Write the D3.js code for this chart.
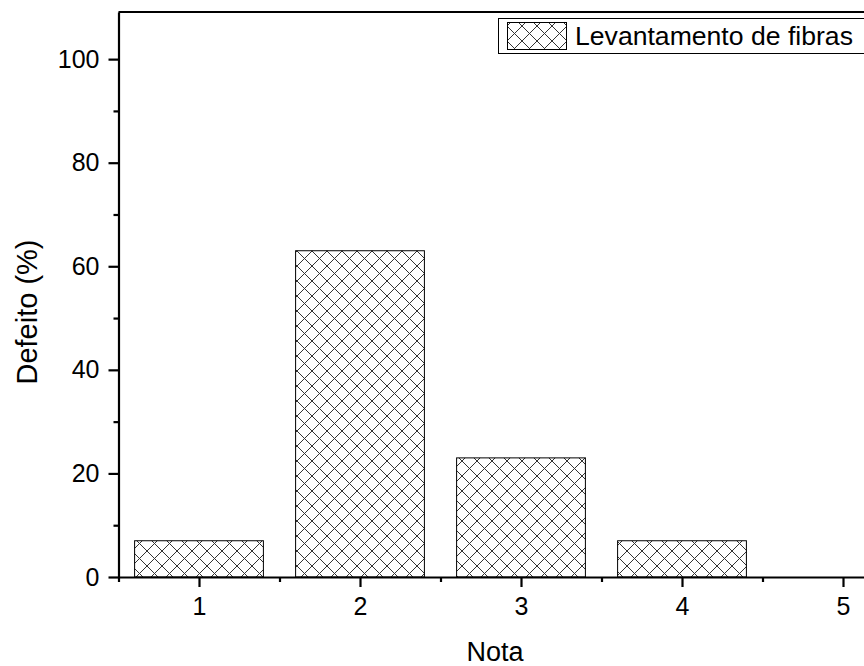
<!DOCTYPE html>
<html lang="pt">
<head>
	<meta charset="utf-8">
	<script src="https://d3js.org/d3.v7.min.js"></script>
	<style>
		body{ margin:0; background:#fff; }
		svg{ display:block; }
		text{ font-family: "Liberation Sans", Arial, sans-serif; fill:#000; }
		.axis path, .axis line{ stroke:#000; stroke-width:2.2px; }
		.axis text{ font-size:25px; font-family: "Liberation Sans", Arial, sans-serif; }
		.bar{ stroke:#000; stroke-width:1px; }
	</style>
</head>
<body>
	<script>
		// data
		var notas = [1, 2, 3, 4, 5];
		var defeito = [7, 63, 23, 7, 0];
		var yTicks = [0, 20, 40, 60, 80, 100];
		var yMinor = [10, 30, 50, 70, 90];
		var xMinor = [0.5, 1.5, 2.5, 3.5, 4.5];
		var legendLabel = "Levantamento de fibras";

		var width = 864, height = 666;
		var plotL = 118.5, plotR = 923.5, plotT = 12, plotB = 577;

		var svg = d3.select("body").append("svg")
			.attr("width", width)
			.attr("height", height);

		var x = d3.scaleLinear().domain([0.5, 5.5]).range([plotL, plotR]);
		var y = d3.scaleLinear().domain([0, 109.1]).range([plotB, plotT]);

		// crosshatch
		var defs = svg.append("defs");
		var pat = defs.append("pattern")
			.attr("id", "hatch")
			.attr("patternUnits", "userSpaceOnUse")
			.attr("width", 15).attr("height", 15)
			.attr("x", 297).attr("y", 251);
		pat.append("rect").attr("width", 15).attr("height", 15).attr("fill", "#fff");
		pat.append("path")
			.attr("d", "M0,0 L15,15 M15,0 L0,15 M-1,14 L1,16 M14,-1 L16,1")
			.attr("stroke", "#333")
			.attr("stroke-width", 1);

		// bars
		svg.append("g").selectAll("rect")
			.data(notas.map(function(n, i){ return {n: n, v: defeito[i]}; }).filter(function(d){ return d.v > 0; }))
			.enter().append("rect")
			.attr("class", "bar")
			.attr("x", function(d){ return x(d.n - 0.4); })
			.attr("width", function(d){ return x(d.n + 0.4) - x(d.n - 0.4); })
			.attr("y", function(d){ return y(d.v); })
			.attr("height", function(d){ return y(0) - y(d.v); })
			.attr("fill", "url(#hatch)");

		// top frame line
		svg.append("line")
			.attr("x1", plotL).attr("x2", plotR)
			.attr("y1", plotT).attr("y2", plotT)
			.attr("stroke", "#000").attr("stroke-width", 2.2);

		// y axis
		svg.append("g").attr("class", "axis")
			.attr("transform", "translate(" + plotL + ",0)")
			.call(d3.axisLeft(y).tickValues(yTicks).tickSizeInner(10).tickSizeOuter(0).tickPadding(9));
		svg.append("g").attr("class", "axis")
			.attr("transform", "translate(" + plotL + ",0)")
			.call(d3.axisLeft(y).tickValues(yMinor).tickSizeInner(5).tickSizeOuter(0).tickFormat(""))
			.select(".domain").remove();

		// x axis
		svg.append("g").attr("class", "axis")
			.attr("transform", "translate(0," + plotB + ")")
			.call(d3.axisBottom(x).tickValues(notas).tickSizeInner(10).tickSizeOuter(0).tickPadding(10).tickFormat(d3.format("d")));
		svg.append("g").attr("class", "axis")
			.attr("transform", "translate(0," + plotB + ")")
			.call(d3.axisBottom(x).tickValues(xMinor).tickSizeInner(5).tickSizeOuter(0).tickFormat(""))
			.select(".domain").remove();

		// axis titles
		svg.append("text")
			.attr("x", 495).attr("y", 661)
			.attr("text-anchor", "middle")
			.style("font-size", "27px")
			.text("Nota");
		svg.append("text")
			.attr("transform", "translate(37,312) rotate(-90)")
			.attr("text-anchor", "middle")
			.style("font-size", "29px")
			.text("Defeito (%)");

		// legend
		var lg = svg.append("g");
		lg.append("rect")
			.attr("x", 498.5).attr("y", 18.5)
			.attr("width", 380).attr("height", 35)
			.attr("fill", "#fff").attr("stroke", "#000").attr("stroke-width", 1);
		lg.append("rect")
			.attr("class", "bar")
			.attr("x", 507.5).attr("y", 22.5)
			.attr("width", 59).attr("height", 27)
			.attr("fill", "url(#hatch)");
		lg.append("text")
			.attr("x", 575).attr("y", 45)
			.style("font-size", "26.6px")
			.text(legendLabel);
	</script>
</body>
</html>
